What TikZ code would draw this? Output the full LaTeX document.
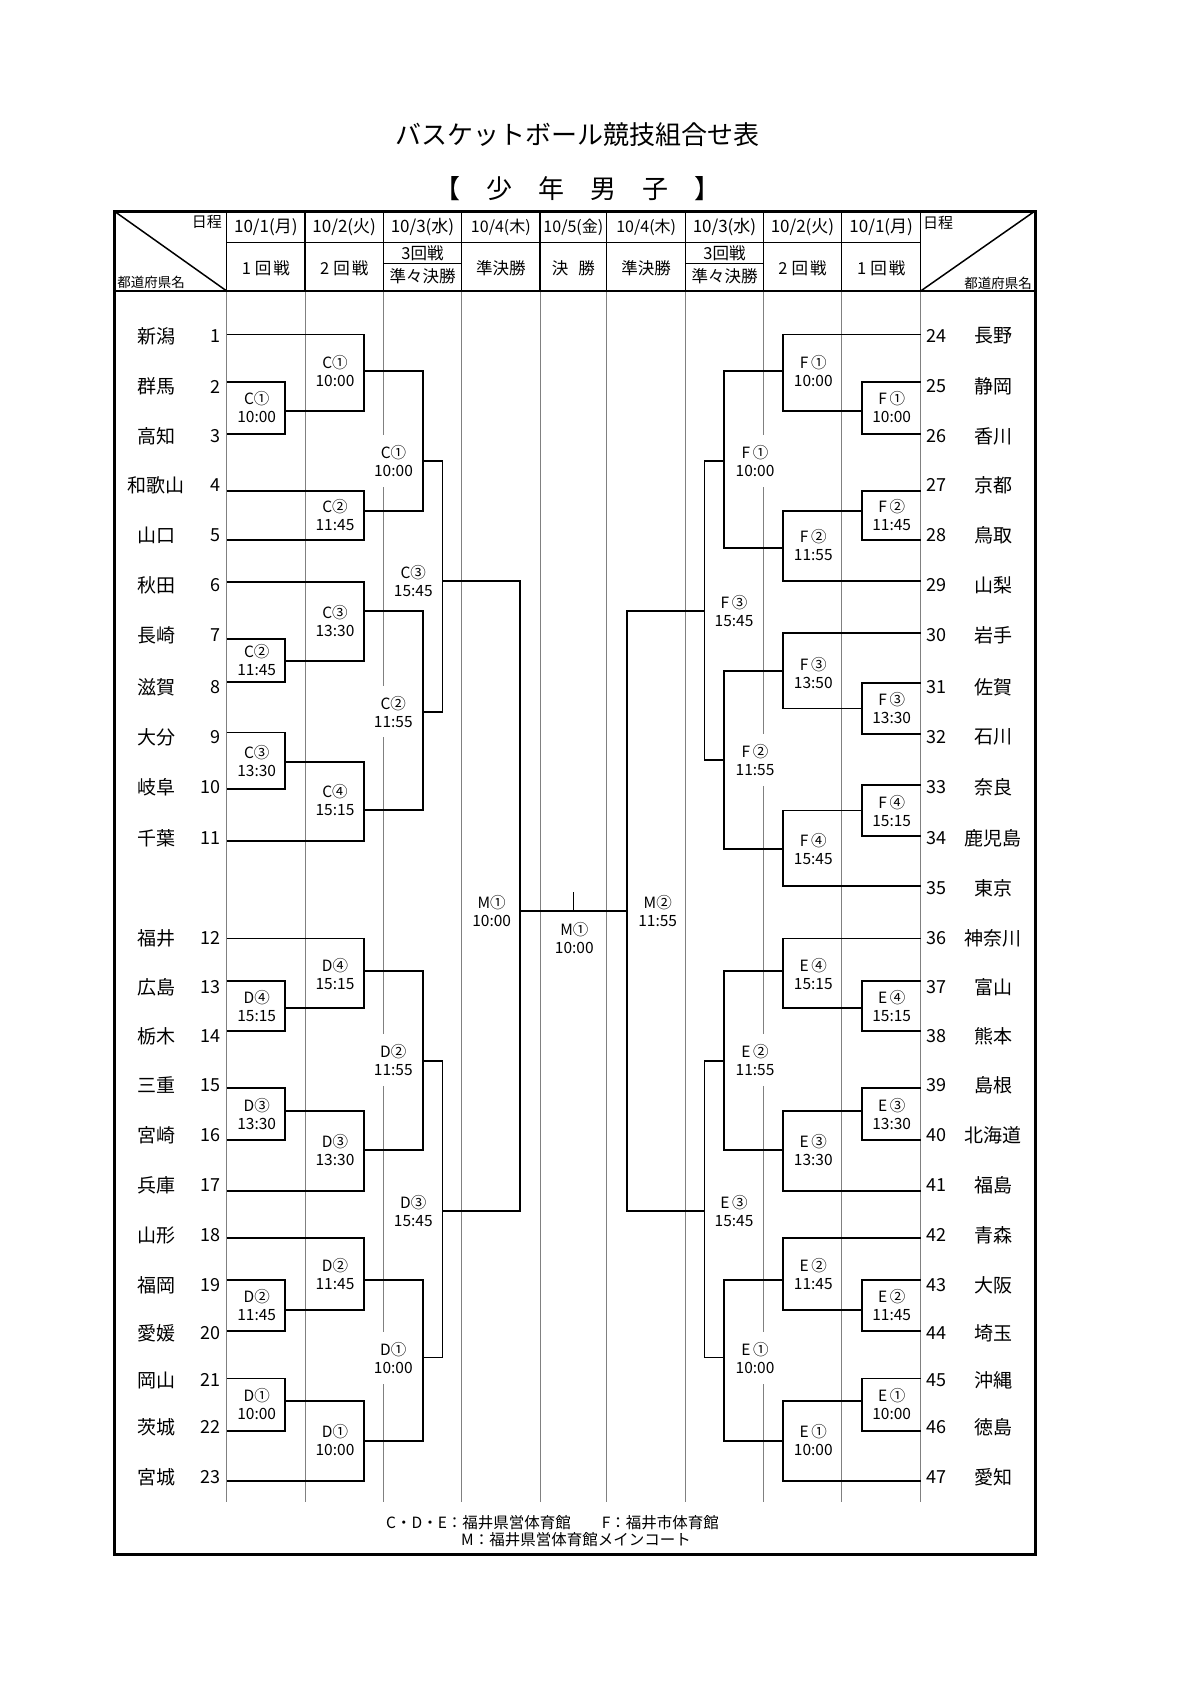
\documentclass[tikz,border=0pt]{standalone}
\usepackage{fontspec}
\setmainfont{Noto Sans CJK JP}
\begin{document}
\begin{tikzpicture}[x=1pt,y=-1pt,
  br/.style={line width=1.6pt},
  gl/.style={line width=0.8pt,black!50},
  hl/.style={line width=1.5pt},
  lab/.style={fill=white,inner xsep=1pt,inner ysep=10pt,align=center,font=\fontsize{15.5}{18}\selectfont},
  nmst/.style={font=\fontsize{19}{20}\selectfont,inner sep=0pt},
  nust/.style={font=\fontsize{18}{20}\selectfont,inner sep=0pt},
  hdst/.style={font=\fontsize{16.5}{18}\selectfont,inner sep=0pt,align=center},
  dtst/.style={font=\fontsize{17}{18}\selectfont,inner sep=0pt},
  smst/.style={font=\fontsize{15}{16}\selectfont,inner sep=0pt},
  fnst/.style={font=\fontsize{15.5}{16}\selectfont,inner sep=0pt,anchor=west},
]
\useasboundingbox (0,0) rectangle (1200,1697);
% ---------- titles
\node (title) at (577,135) {\fontsize{26}{28}\selectfont バスケットボール競技組合せ表};
\node (subtitle) at (577,189) {\fontsize{26}{28}\selectfont 【　少　年　男　子　】};
% ---------- gray column lines
\foreach \x in {226.7,305,383.3,461.7,540,606.7,685.7,763.3,841.7,920.7}
  \draw[gl] (\x,291) -- (\x,1502);
% ---------- teams
\foreach \i/\nm/\ty/\ly in {1/新潟/336/334.3,2/群馬/386.5/381.7,3/高知/436/434,4/和歌山/485/490.7,5/山口/535/540,6/秋田/585/581.7,7/長崎/635/639,8/滋賀/687/681.7,9/大分/737/732.3,10/岐阜/787/789,11/千葉/838/841,12/福井/938/938.3,13/広島/987/981,14/栃木/1036/1031,15/三重/1085/1087.7,16/宮崎/1135/1140,17/兵庫/1185/1190.7,18/山形/1235/1237.7,19/福岡/1285/1280,20/愛媛/1333/1330.7,21/岡山/1380/1378.3,22/茨城/1427/1430.7,23/宮城/1477/1480.7}{
  \node[nmst] (n\i) at (156,\ty) {\nm};
  \node[nust,anchor=east] (num\i) at (221,\ty) {\i};
  \coordinate (t\i) at (226.7,\ly);
}
\foreach \i/\nm/\ty/\ly in {24/長野/336/334.3,25/静岡/386.5/381.7,26/香川/436/434,27/京都/485/490.7,28/鳥取/535/540,29/山梨/585/581,30/岩手/635/633,31/佐賀/687/683,32/石川/737/734,33/奈良/787/785,34/鹿児島/838/836,35/東京/888/886,36/神奈川/938/938.3,37/富山/987/981,38/熊本/1036/1031,39/島根/1085/1087.7,40/北海道/1135/1140,41/福島/1185/1190.7,42/青森/1235/1237.7,43/大阪/1285/1280,44/埼玉/1333/1330.7,45/沖縄/1380/1378.3,46/徳島/1427/1430.7,47/愛知/1477/1480.7}{
  \node[nmst] (n\i) at (993.3,\ty) {\nm};
  \node[nust,anchor=west] (num\i) at (926,\ty) {\i};
  \coordinate (t\i) at (920.7,\ly);
}
% ---------- match labels
\foreach \nn/\x/\y/\txt in {
  c1a/256.7/407/{C①\\10:00}, c1b/335/371/{C①\\10:00}, c2b/335/515/{C②\\11:45},
  c1c/393.5/461/{C①\\10:00}, c3d/413.3/581.3/{C③\\15:45}, c3b/335/621/{C③\\13:30},
  c2a/256.7/660/{C②\\11:45}, c2c/393.3/711.7/{C②\\11:55}, c3a/256.7/761/{C③\\13:30},
  c4b/335/800.5/{C④\\15:15},
  d4b/335/974/{D④\\15:15}, d4a/256.7/1006/{D④\\15:15}, d2c/393.3/1060/{D②\\11:55},
  d3a/256.7/1114/{D③\\13:30}, d3b/335/1150.5/{D③\\13:30}, d3d/413.3/1211/{D③\\15:45},
  d2b/335/1274/{D②\\11:45}, d2a/256.7/1305.5/{D②\\11:45}, d1c/393.3/1358/{D①\\10:00},
  d1a/256.7/1404/{D①\\10:00}, d1b/335/1440/{D①\\10:00},
  f1b/813.3/371/{F\,①\\10:00}, f1a/891.7/407/{F\,①\\10:00}, f1c/755/461/{F\,①\\10:00},
  f2a/891.7/515/{F\,②\\11:45}, f2b/813.3/545.3/{F\,②\\11:55}, f3d/734/611/{F\,③\\15:45},
  f3b/813.3/673/{F\,③\\13:50}, f3a/891.7/708.5/{F\,③\\13:30}, f2c/755/760/{F\,②\\11:55},
  f4a/891.7/811/{F\,④\\15:15}, f4b/813.3/849/{F\,④\\15:45},
  e4b/813.3/974/{E\,④\\15:15}, e4a/891.7/1006/{E\,④\\15:15}, e2c/755/1060/{E\,②\\11:55},
  e3a/891.7/1114/{E\,③\\13:30}, e3b/813.3/1150.5/{E\,③\\13:30}, e3d/734/1211/{E\,③\\15:45},
  e2b/813.3/1274/{E\,②\\11:45}, e2a/891.7/1305.5/{E\,②\\11:45}, e1c/755/1358/{E\,①\\10:00},
  e1a/891.7/1404/{E\,①\\10:00}, e1b/813.3/1440/{E\,①\\10:00},
  m1/491.7/911/{M①\\10:00}, m2/657.7/911/{M②\\11:55}, fin/574.3/938/{M①\\10:00}}
  \node[lab] (l\nn) at (\x,\y) {\txt};
% ---------- match points
\coordinate (c1a) at (285,411);   \coordinate (c1b) at (364,371);
\coordinate (c2b) at (364,510.7); \coordinate (c1c) at (422.7,461);
\coordinate (c2a) at (285,661);   \coordinate (c3b) at (364,611);
\coordinate (c3a) at (285,761.7); \coordinate (c4b) at (364,810);
\coordinate (c2c) at (422.7,711.7); \coordinate (c3d) at (442.3,581);
\coordinate (d4a) at (285,1008);  \coordinate (d4b) at (364,971);
\coordinate (d3a) at (285,1110.7); \coordinate (d3b) at (364,1150);
\coordinate (d2c) at (422.7,1061); \coordinate (d2a) at (285,1310);
\coordinate (d2b) at (364,1280);  \coordinate (d1a) at (285,1401);
\coordinate (d1b) at (364,1440.7); \coordinate (d1c) at (422.7,1357.3);
\coordinate (d3d) at (442.3,1210.7);
\coordinate (f1a) at (861.7,411);  \coordinate (f1b) at (782.7,371);
\coordinate (f2a) at (861.7,510.7); \coordinate (f2b) at (782.7,548);
\coordinate (f1c) at (724,461);    \coordinate (f3a) at (861.7,708.5);
\coordinate (f3b) at (782.7,671);  \coordinate (f4a) at (861.7,810.5);
\coordinate (f4b) at (782.7,849);  \coordinate (f2c) at (724,760);
\coordinate (f3d) at (704.4,611);
\coordinate (e4a) at (861.7,1008); \coordinate (e4b) at (782.7,971);
\coordinate (e3a) at (861.7,1110.7); \coordinate (e3b) at (782.7,1150);
\coordinate (e2c) at (724,1061);   \coordinate (e2a) at (861.7,1310);
\coordinate (e2b) at (782.7,1280); \coordinate (e1a) at (861.7,1401);
\coordinate (e1b) at (782.7,1440.7); \coordinate (e1c) at (724,1357.3);
\coordinate (e3d) at (704.4,1210.7);
\coordinate (m1) at (520,911); \coordinate (m2) at (626.7,911);
\coordinate (fin) at (573.3,911); \coordinate (fintop) at (573.3,891.7);
% ---------- brackets
\draw[br] (t2) -| (c1a) |- (t3);
\draw[br] (t1) -| (c1b) |- (c1a);
\draw[br] (t4) -| (c2b) |- (t5);
\draw[br] (c1b) -| (c1c) |- (c2b);
\draw[br] (t7) -| (c2a) |- (t8);
\draw[br] (t6) -| (c3b) |- (c2a);
\draw[br] (t9) -| (c3a) |- (t10);
\draw[br] (c3a) -| (c4b) |- (t11);
\draw[br] (c3b) -| (c2c) |- (c4b);
\draw[br] (c1c) -| (c3d) |- (c2c);
\draw[br] (t13) -| (d4a) |- (t14);
\draw[br] (t12) -| (d4b) |- (d4a);
\draw[br] (t15) -| (d3a) |- (t16);
\draw[br] (d3a) -| (d3b) |- (t17);
\draw[br] (d4b) -| (d2c) |- (d3b);
\draw[br] (t19) -| (d2a) |- (t20);
\draw[br] (t18) -| (d2b) |- (d2a);
\draw[br] (t21) -| (d1a) |- (t22);
\draw[br] (d1a) -| (d1b) |- (t23);
\draw[br] (d2b) -| (d1c) |- (d1b);
\draw[br] (d2c) -| (d3d) |- (d1c);
\draw[br] (t25) -| (f1a) |- (t26);
\draw[br] (t24) -| (f1b) |- (f1a);
\draw[br] (t27) -| (f2a) |- (t28);
\draw[br] (f2a) -| (f2b) |- (t29);
\draw[br] (f1b) -| (f1c) |- (f2b);
\draw[br] (t31) -| (f3a) |- (t32);
\draw[br] (t30) -| (f3b) |- (f3a);
\draw[br] (t33) -| (f4a) |- (t34);
\draw[br] (f4a) -| (f4b) |- (t35);
\draw[br] (f3b) -| (f2c) |- (f4b);
\draw[br] (f1c) -| (f3d) |- (f2c);
\draw[br] (t37) -| (e4a) |- (t38);
\draw[br] (t36) -| (e4b) |- (e4a);
\draw[br] (t39) -| (e3a) |- (t40);
\draw[br] (e3a) -| (e3b) |- (t41);
\draw[br] (e4b) -| (e2c) |- (e3b);
\draw[br] (t43) -| (e2a) |- (t44);
\draw[br] (t42) -| (e2b) |- (e2a);
\draw[br] (t45) -| (e1a) |- (t46);
\draw[br] (e1a) -| (e1b) |- (t47);
\draw[br] (e2b) -| (e1c) |- (e1b);
\draw[br] (e2c) -| (e3d) |- (e1c);
\draw[br] (c3d) -| (m1) |- (d3d);
\draw[br] (f3d) -| (m2) |- (e3d);
\draw[br] (m1) -- (m2);
\draw[br] (fin) -- (fintop);
% ---------- header
\foreach \x in {226.7,305,383.3,461.7,540,606.7,685.7,763.3,841.7,920.7}
  \draw[hl] (\x,211) -- (\x,291);
\draw[hl] (226.7,242.7) -- (920.7,242.7);
\draw[hl] (383.3,263.3) -- (461.7,263.3);
\draw[hl] (685.7,263.3) -- (763.3,263.3);
\draw[hl] (114,211) -- (226.7,291);
\draw[hl] (920.7,291) -- (1035,211);
\draw[line width=2.5pt] (114,291) -- (1035,291);
\node[dtst] (dt1) at (265.85,227) {10/1(月)};
\node[dtst] (dt2) at (344.2,227) {10/2(火)};
\node[dtst] (dt3) at (422.5,227) {10/3(水)};
\node[dtst,font=\fontsize{16}{18}\selectfont] (dt4) at (500.85,227) {10/4(木)};
\node[dtst,font=\fontsize{16}{18}\selectfont] (dt5) at (573.35,227) {10/5(金)};
\node[dtst,font=\fontsize{16}{18}\selectfont] (dt6) at (646.2,227) {10/4(木)};
\node[dtst] (dt7) at (724.5,227) {10/3(水)};
\node[dtst] (dt8) at (802.5,227) {10/2(火)};
\node[dtst] (dt9) at (881.2,227) {10/1(月)};
\node[hdst] (rd1) at (265.85,268) {1\hspace{4pt}回\hspace{2pt}戦};
\node[hdst] (rd2) at (344.2,268) {2\hspace{4pt}回\hspace{2pt}戦};
\node[hdst] (rd3a) at (422.5,253) {3回戦};
\node[hdst] (rd3b) at (422.5,276.5) {準々決勝};
\node[hdst] (rd4) at (500.85,268) {準決勝};
\node[hdst] (rd5) at (573.35,268) {決\hspace{10pt}勝};
\node[hdst] (rd6) at (646.2,268) {準決勝};
\node[hdst] (rd7a) at (724.5,253) {3回戦};
\node[hdst] (rd7b) at (724.5,276.5) {準々決勝};
\node[hdst] (rd8) at (802.5,268) {2\hspace{4pt}回\hspace{2pt}戦};
\node[hdst] (rd9) at (881.2,268) {1\hspace{4pt}回\hspace{2pt}戦};
\node[smst,anchor=east] (nitteiL) at (222,222) {日程};
\node[smst,font=\fontsize{13.5}{14}\selectfont] (todoL) at (151,282) {都道府県名};
\node[smst,anchor=west] (nitteiR) at (923,223) {日程};
\node[smst,font=\fontsize{13.5}{14}\selectfont,anchor=east] (todoR) at (1032,283) {都道府県名};
% ---------- footnote
\node[fnst] (fn1) at (386,1523) {C・D・E：福井県営体育館　　F：福井市体育館};
\node[fnst] (fn2) at (461,1540) {M：福井県営体育館メインコート};
% ---------- frame
\draw[line width=3pt] (114,211) rectangle (1035,1554);
\end{tikzpicture}
\end{document}
